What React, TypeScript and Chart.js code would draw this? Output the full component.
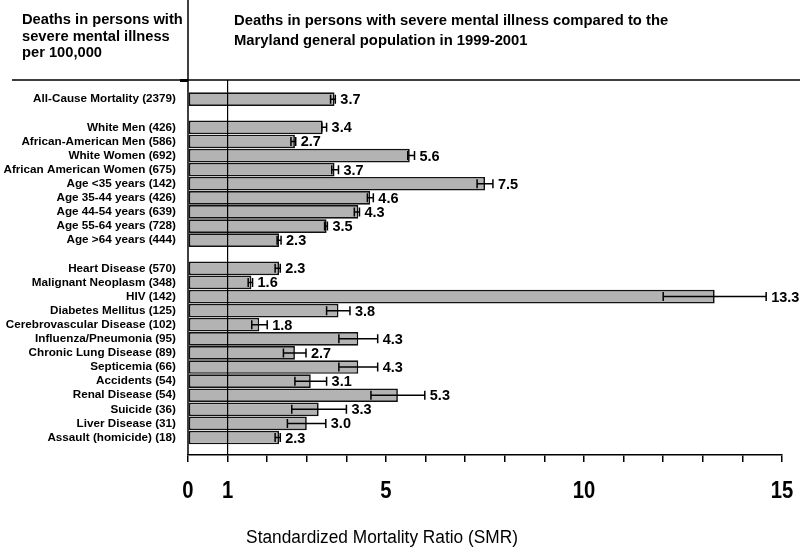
import React, { useEffect, useRef } from "react";
import { Chart, registerables } from "chart.js";

Chart.register(...registerables);

const categories: string[] = [
  "All-Cause Mortality (2379)",
  "",
  "White Men (426)",
  "African-American Men (586)",
  "White Women (692)",
  "African American Women (675)",
  "Age <35 years (142)",
  "Age 35-44 years (426)",
  "Age 44-54 years (639)",
  "Age 55-64 years (728)",
  "Age >64 years (444)",
  "",
  "Heart Disease (570)",
  "Malignant Neoplasm (348)",
  "HIV (142)",
  "Diabetes Mellitus (125)",
  "Cerebrovascular Disease (102)",
  "Influenza/Pneumonia (95)",
  "Chronic Lung Disease (89)",
  "Septicemia (66)",
  "Accidents (54)",
  "Renal Disease (54)",
  "Suicide (36)",
  "Liver Disease (31)",
  "Assault (homicide) (18)",
];

const smr: (number | null)[] = [
  3.7, null, 3.4, 2.7, 5.6, 3.7, 7.5, 4.6, 4.3, 3.5, 2.3, null,
  2.3, 1.6, 13.3, 3.8, 1.8, 4.3, 2.7, 4.3, 3.1, 5.3, 3.3, 3.0, 2.3,
];

const ciLow: (number | null)[] = [
  3.6, null, 3.38, 2.6, 5.55, 3.63, 7.3, 4.53, 4.2, 3.45, 2.25, null,
  2.2, 1.52, 12.0, 3.5, 1.61, 3.81, 2.41, 3.81, 2.7, 4.62, 2.62, 2.51, 2.2,
];

const ciHigh: (number | null)[] = [
  3.72, null, 3.5, 2.72, 5.72, 3.8, 7.7, 4.68, 4.33, 3.52, 2.35, null,
  2.33, 1.63, 14.6, 4.09, 2.0, 4.79, 2.98, 4.79, 3.5, 5.98, 4.0, 3.48, 2.33,
];

const xTickLabels: number[] = [0, 1, 5, 10, 15];

const leftHeader: string[] = ["Deaths in persons with", "severe mental illness", "per 100,000"];
const titleLines: string[] = [
  "Deaths in persons with severe mental illness compared to the",
  "Maryland general population in 1999-2001",
];
const xTitle = "Standardized Mortality Ratio (SMR)";

const SANS = 'Arial, "Liberation Sans", sans-serif';

export default function App() {
  const ref = useRef<HTMLCanvasElement | null>(null);

  useEffect(() => {
    if (!ref.current) return;
    const points: { x: number; y: number }[] = [];
    const idx: number[] = [];
    smr.forEach((v, i) => {
      if (v !== null) {
        points.push({ x: v, y: i });
        idx.push(i);
      }
    });

    const decor = {
      id: "decor",
      afterDatasetsDraw(chart: any) {
        const ctx = chart.ctx;
        const xs = chart.scales.x;
        const area = chart.chartArea;
        ctx.save();
        // reference line at SMR = 1
        ctx.strokeStyle = "#000";
        ctx.lineWidth = 1.2;
        ctx.beginPath();
        ctx.moveTo(xs.getPixelForValue(1), area.top);
        ctx.lineTo(xs.getPixelForValue(1), area.bottom);
        ctx.stroke();

        // error bars and value labels
        const meta = chart.getDatasetMeta(0);
        meta.data.forEach((el: any, k: number) => {
          const i = idx[k];
          const lo = ciLow[i] as number;
          const hi = ciHigh[i] as number;
          const y = el.y;
          const xl = xs.getPixelForValue(lo);
          const xh = xs.getPixelForValue(hi);
          ctx.strokeStyle = "#000";
          ctx.lineWidth = 1.5;
          ctx.beginPath();
          ctx.moveTo(xl, y);
          ctx.lineTo(xh, y);
          ctx.moveTo(xl, y - 4.5);
          ctx.lineTo(xl, y + 4.5);
          ctx.moveTo(xh, y - 4.5);
          ctx.lineTo(xh, y + 4.5);
          ctx.stroke();
          const end = Math.max(xh, el.x);
          ctx.fillStyle = "#000";
          ctx.font = `bold 14.5px ${SANS}`;
          ctx.textAlign = "left";
          ctx.textBaseline = "middle";
          ctx.fillText((smr[i] as number).toFixed(1), end + 5, y + 1);
        });

        // frame lines
        ctx.lineWidth = 1.5;
        ctx.beginPath();
        ctx.moveTo(12, 80);
        ctx.lineTo(800, 80);
        ctx.moveTo(area.left, 0);
        ctx.lineTo(area.left, area.bottom);
        ctx.stroke();
        ctx.fillStyle = "#000";
        ctx.fillRect(180, 79, 8, 3);

        // headers
        ctx.textAlign = "left";
        ctx.textBaseline = "middle";
        ctx.font = `bold 14.7px ${SANS}`;
        leftHeader.forEach((t, j) => ctx.fillText(t, 22, 20 + j * 16.5));
        ctx.font = `bold 14.8px ${SANS}`;
        titleLines.forEach((t, j) => ctx.fillText(t, 234, 21 + j * 20));

        // x tick labels (condensed bold)
        ctx.font = `bold 23px ${SANS}`;
        ctx.textAlign = "center";
        ctx.textBaseline = "middle";
        xTickLabels.forEach((v) => {
          const px = xs.getPixelForValue(v);
          ctx.save();
          ctx.translate(px, 492);
          ctx.scale(0.88, 1);
          ctx.fillText(String(v), 0, 0);
          ctx.restore();
        });

        // x axis title
        ctx.font = `18px ${SANS}`;
        ctx.textAlign = "center";
        ctx.save();
        ctx.translate(382, 538);
        ctx.scale(0.96, 1);
        ctx.fillText(xTitle, 0, 0);
        ctx.restore();
        ctx.restore();
      },
    };

    const chart = new Chart(ref.current, {
      type: "bar",
      data: {
        datasets: [
          {
            data: points as any,
            backgroundColor: "#b3b3b3",
            borderColor: "#111",
            borderWidth: 1.7,
            borderSkipped: false,
            barPercentage: 0.97,
            categoryPercentage: 1,
          },
        ],
      },
      options: {
        indexAxis: "y",
        animation: false,
        responsive: false,
        maintainAspectRatio: false,
        layout: { padding: { top: 80, right: 18, left: 0, bottom: 0 } },
        plugins: { legend: { display: false }, tooltip: { enabled: false }, title: { display: false } },
        scales: {
          y: {
            type: "linear",
            reverse: true,
            offset: false,
            min: -1.36,
            max: 25.24,
            afterFit: (s: any) => {
              s.width = 188;
            },
            afterBuildTicks: (axis: any) => {
              axis.ticks = categories
                .map((c, i) => ({ value: i, c }))
                .filter((t) => t.c !== "")
                .map((t) => ({ value: t.value }));
            },
            grid: { display: false, drawTicks: false },
            border: { display: false },
            ticks: {
              autoSkip: false,
              padding: 12,
              color: "#000",
              font: { family: SANS, size: 11.7, weight: "bold" },
              callback: (v: any) => categories[v as number] ?? "",
            },
          },
          x: {
            type: "linear",
            min: 0,
            max: 15,
            afterFit: (s: any) => {
              s.height = 94;
              s.paddingLeft = 0;
              s.paddingRight = 0;
            },
            grid: {
              display: true,
              drawOnChartArea: false,
              drawTicks: true,
              tickLength: 7,
              color: "#000",
              lineWidth: 1.5,
            },
            border: { display: true, color: "#000", width: 1.5 },
            ticks: {
              stepSize: 1,
              autoSkip: false,
              maxRotation: 0,
              padding: 18,
              color: "#000",
              font: { family: SANS, size: 12 },
              callback: () => "",
            },
          },
        },
      },
      plugins: [decor],
    });
    return () => chart.destroy();
  }, []);

  return (
    <div style={{ position: "fixed", left: 0, top: 0, width: 800, height: 549, background: "#fff" }}>
      <canvas ref={ref} width={800} height={549} style={{ width: 800, height: 549, display: "block" }} />
    </div>
  );
}
